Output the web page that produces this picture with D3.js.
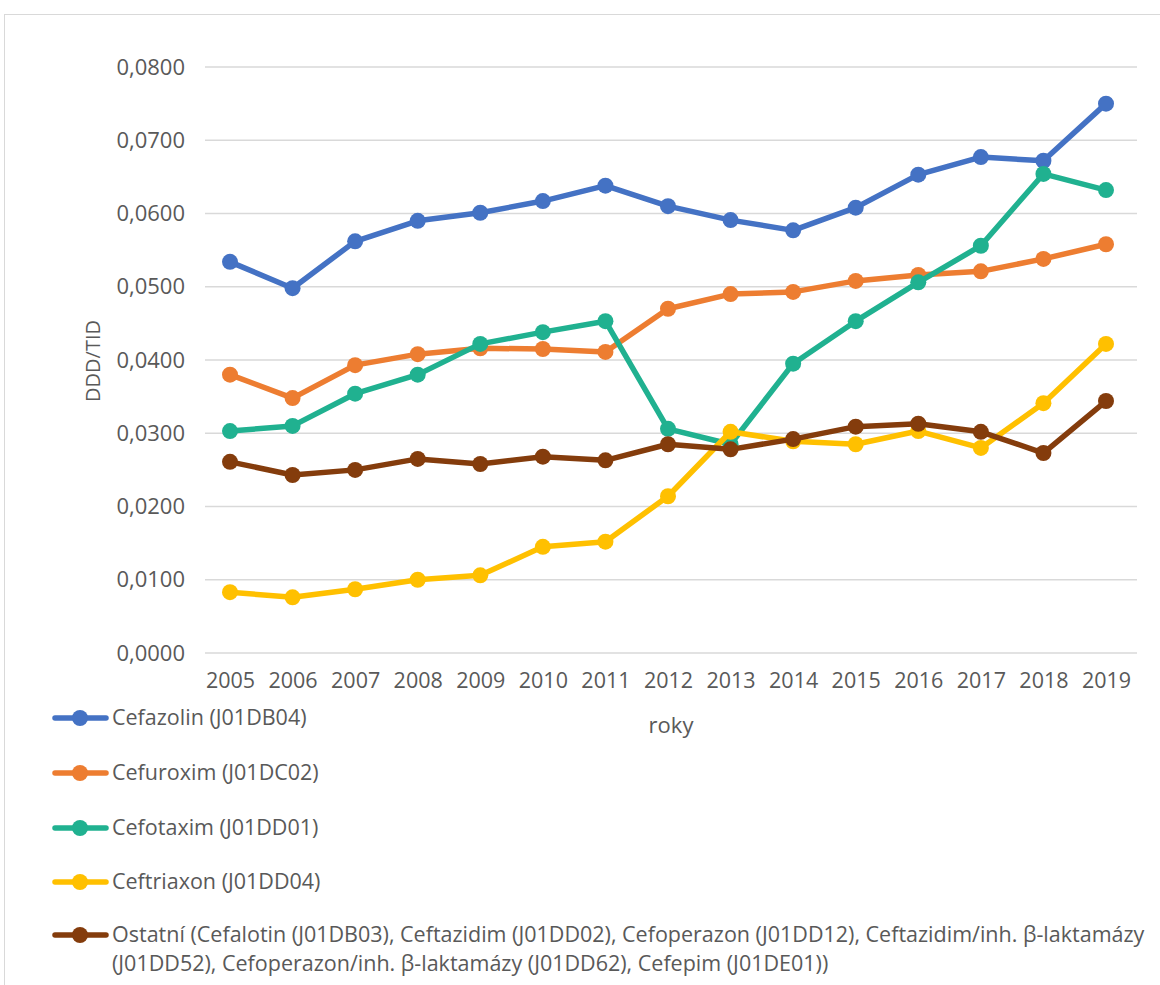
<!DOCTYPE html>
<html>
<head>
<meta charset="utf-8">
<script src="https://cdn.jsdelivr.net/npm/d3@7"></script>
<style>
  body { margin: 0; background: #fff; }
  #chart { width: 1160px; height: 985px; }
</style>
</head>
<body>
<div id="chart"></div>
<script>
const years = ['2005', '2006', '2007', '2008', '2009', '2010', '2011', '2012', '2013', '2014', '2015', '2016', '2017', '2018', '2019']
const yTicks = [0, 0.01, 0.02, 0.03, 0.04, 0.05, 0.06, 0.07, 0.08]

const cefazolin = [0.0534, 0.0498, 0.0562, 0.0590, 0.0601, 0.0617, 0.0638, 0.0610, 0.0591, 0.0577, 0.0608, 0.0653, 0.0677, 0.0672, 0.0750]
const cefuroxim = [0.0380, 0.0348, 0.0393, 0.0408, 0.0416, 0.0415, 0.0411, 0.0470, 0.0490, 0.0493, 0.0508, 0.0516, 0.0521, 0.0538, 0.0558]
const cefotaxim = [0.0303, 0.0310, 0.0354, 0.0380, 0.0422, 0.0438, 0.0453, 0.0306, 0.0285, 0.0395, 0.0453, 0.0506, 0.0556, 0.0654, 0.0632]
const ceftriaxon = [0.0083, 0.0076, 0.0087, 0.0100, 0.0106, 0.0145, 0.0152, 0.0214, 0.0302, 0.0289, 0.0285, 0.0303, 0.0280, 0.0341, 0.0422]
const ostatni = [0.0261, 0.0243, 0.0250, 0.0265, 0.0258, 0.0268, 0.0263, 0.0285, 0.0278, 0.0292, 0.0309, 0.0313, 0.0302, 0.0273, 0.0344]

const seriesNames = [
    'Cefazolin (J01DB04)',
    'Cefuroxim (J01DC02)',
    'Cefotaxim (J01DD01)',
    'Ceftriaxon (J01DD04)',
    ['Ostatní (Cefalotin (J01DB03), Ceftazidim (J01DD02), Cefoperazon (J01DD12), Ceftazidim/inh. β-laktamázy',
     '(J01DD52), Cefoperazon/inh. β-laktamázy (J01DD62), Cefepim (J01DE01))']
]
const seriesColors = ['#4472c4', '#ed7d31', '#20b190', '#ffc000', '#843c0c']

const series = [cefazolin, cefuroxim, cefotaxim, ceftriaxon, ostatni].map((values, k) => ({
    name: seriesNames[k],
    color: seriesColors[k],
    values: values
}))

const width = 1160
const height = 985
const font = 'Open Sans, sans-serif'
const textColor = '#595959'

const svg = d3.select('#chart')
    .append('svg')
    .attr('width', width)
    .attr('height', height)

// chart frame (cut off right and bottom)
svg.append('rect')
    .attr('x', 4.5)
    .attr('y', 14.5)
    .attr('width', width + 10)
    .attr('height', height)
    .attr('fill', 'none')
    .attr('stroke', '#d9d9d9')
    .attr('stroke-width', 1)

const plotLeft = 205, plotRight = 1137, plotTop = 67, plotBottom = 653

const xScale = d3.scalePoint()
    .domain(years)
    .range([230, 1106])

const yScale = d3.scaleLinear()
    .domain([0, 0.08])
    .range([plotBottom, plotTop])

/* gridlines */
svg.append('g')
    .selectAll('line')
    .data(yTicks)
    .enter()
    .append('line')
    .attr('x1', plotLeft)
    .attr('x2', plotRight)
    .attr('y1', d => yScale(d))
    .attr('y2', d => yScale(d))
    .attr('stroke', '#d9d9d9')
    .attr('stroke-width', 1.5)

/* y axis */
const yAxis = d3.axisLeft(yScale)
    .tickValues(yTicks)
    .tickSize(0)
    .tickPadding(0)
    .tickFormat(d => d3.format('.4f')(d).replace('.', ','))

svg.append('g')
    .attr('transform', `translate(185,0)`)
    .call(yAxis)
    .call(g => g.select('.domain').remove())
    .selectAll('text')
    .attr('fill', textColor)
    .style('font-family', font)
    .style('font-size', '22px')

/* x axis */
const xAxis = d3.axisBottom(xScale).tickSize(0).tickPadding(0)

svg.append('g')
    .attr('transform', `translate(0,673)`)
    .call(xAxis)
    .call(g => g.select('.domain').remove())
    .selectAll('text')
    .attr('fill', textColor)
    .style('font-family', font)
    .style('font-size', '21.5px')

/* lines */
const line = d3.line()
    .x((d, i) => xScale(years[i]))
    .y(d => yScale(d))

series.forEach(s => {
    svg.append('path')
        .datum(s.values)
        .attr('fill', 'none')
        .attr('stroke', s.color)
        .attr('stroke-width', 5.5)
        .attr('stroke-linejoin', 'round')
        .attr('d', line)

    svg.append('g')
        .selectAll('circle')
        .data(s.values)
        .enter()
        .append('circle')
        .attr('cx', (d, i) => xScale(years[i]))
        .attr('cy', d => yScale(d))
        .attr('r', 8)
        .attr('fill', s.color)
})

/* y Label */
svg.append('text')
    .text('DDD/TID')
    .attr('transform', 'translate(100,361) rotate(-90)')
    .attr('text-anchor', 'middle')
    .attr('fill', textColor)
    .style('font-family', font)
    .style('font-size', '20px')

/* x Label */
svg.append('text')
    .text('roky')
    .attr('x', 671)
    .attr('y', 733)
    .attr('text-anchor', 'middle')
    .attr('fill', textColor)
    .style('font-family', font)
    .style('font-size', '22px')

/* legend */
const legendY = [718, 773, 828, 882, 935]

series.forEach((s, k) => {
    const g = svg.append('g').attr('transform', `translate(0,${legendY[k]})`)
    g.append('line')
        .attr('x1', 55)
        .attr('x2', 106)
        .attr('stroke', s.color)
        .attr('stroke-width', 5.5)
        .attr('stroke-linecap', 'round')
    g.append('circle')
        .attr('cx', 80)
        .attr('r', 8)
        .attr('fill', s.color)
    const lines = Array.isArray(s.name) ? s.name : [s.name]
    lines.forEach((t, j) => {
        g.append('text')
            .text(t)
            .attr('x', 112)
            .attr('y', 7 + j * 29)
            .attr('fill', textColor)
            .style('font-family', font)
            .style('font-size', '21.5px')
    })
})
</script>
</body>
</html>
